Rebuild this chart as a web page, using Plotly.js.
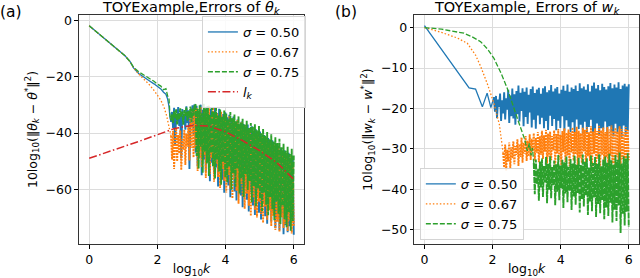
<!DOCTYPE html>
<html>
<head>
<meta charset="utf-8">
<script src="https://cdn.plot.ly/plotly-3.0.1.min.js"></script>
<style>html,body{margin:0;padding:0;background:#fff;}#chart{width:640px;height:278px;}</style>
</head>
<body>
<div id="chart"></div>
<script>
// ---------- Panel (a): errors of theta_k ----------
const seriesNames = ['<i>σ</i> = 0.50', '<i>σ</i> = 0.67', '<i>σ</i> = 0.75'];
const lkName = '<i>l<sub>k</sub></i>';

// smooth (early) parts, x = log10 k
const aBlueX = [0, 0.3, 0.6, 0.9, 1.05, 1.2, 1.3, 1.45, 1.6, 1.75, 1.9, 2.0, 2.1, 2.18, 2.25, 2.3, 2.34, 2.37, 2.40];
const aBlueY = [-1.8, -4.8, -7.9, -11.0, -12.5, -14.6, -16.8, -18.8, -20.2, -21.3, -22.5, -23.4, -24.3, -25.5, -26.2, -27.9, -30.5, -34.6, -36.0];
const aOrangeX = [0, 0.3, 0.6, 0.9, 1.05, 1.2, 1.3, 1.45, 1.6, 1.75, 1.9, 2.0, 2.1, 2.2, 2.27, 2.33, 2.37, 2.40];
const aOrangeY = [-1.8, -4.8, -7.9, -11.0, -12.5, -14.6, -16.8, -19.0, -20.8, -22.6, -24.8, -26.5, -28.3, -31.0, -33.8, -37.2, -39.5, -41.0];
const aGreenX = [0, 0.3, 0.6, 0.9, 1.05, 1.2, 1.3, 1.45, 1.6, 1.75, 1.9, 2.0, 2.1, 2.18, 2.25, 2.3, 2.34, 2.37, 2.40];
const aGreenY = [-1.8, -4.8, -7.9, -11.0, -12.5, -14.6, -16.6, -18.2, -19.3, -20.4, -21.6, -22.6, -23.3, -24.6, -24.2, -26.8, -27.6, -33.8, -35.5];

// oscillating parts, sampled every 0.03 in log10 k starting at 2.40
const aNoiseStart = 2.40;
const aNoiseStep = 0.03;
const aBlueNoise = [-36.0,-32.5,-38.2,-31.0,-44.6,-33.4,-35.8,-30.8,-37.5,-32.9,-49.0,-31.5,-35.1,-33.7,-38.8,-30.5,-36.4,-31.9,-52.8,-32.6,-34.7,-30.1,-40.3,-29.8,
-47.0,-30.3,-51.9,-32.2,-46.3,-29.9,-55.0,-31.7,-49.4,-33.1,
-53.8,-30.6,-48.5,-32.8,-57.2,-31.3,-50.6,-34.0,-54.7,-30.8,
-52.3,-32.9,-59.0,-31.4,-49.8,-35.1,-56.6,-33.2,-61.3,-32.6,
-55.2,-34.4,-58.7,-33.5,-62.9,-35.6,-53.4,-34.1,-60.8,-36.0,
-64.0,-35.2,-57.5,-37.4,-62.2,-35.9,-66.4,-36.8,-59.3,-38.0,
-63.7,-37.0,-67.9,-39.3,-61.1,-37.6,-65.8,-40.5,-69.2,-38.7,
-62.6,-41.2,-68.4,-39.5,-70.8,-42.3,-64.9,-40.7,-69.6,-43.5,
-72.3,-41.8,-66.7,-44.2,-71.5,-42.6,-68.1,-45.3,-73.9,-44.0,
-70.2,-46.6,-74.6,-45.4,-69.0,-47.8,-76.0,-46.1,-72.8,-48.6,
-75.3,-47.0,-73.2,-49.2,-70.5,-48.3,-76.2];
const aOrangeNoise = [-41.0,-49.5,-39.2,-52.8,-43.6,-38.4,-50.1,-40.7,-47.3,-39.0,-53.2,-42.1,-46.0,-38.8,-51.4,-40.2,-44.9,-37.9,-49.8,-33.5,-45.2,-31.8,-48.7,-30.9,
-45.3,-31.1,-53.5,-33.4,-49.0,-30.7,-52.2,-34.5,-47.8,-31.9,
-56.0,-32.3,-50.4,-30.2,-54.6,-33.8,-48.9,-31.0,-57.3,-34.7,
-51.0,-33.0,-55.7,-35.5,-59.6,-32.4,-52.8,-34.9,-57.0,-33.6,
-61.2,-35.7,-54.9,-33.9,-59.8,-36.6,-63.3,-34.8,-56.4,-37.2,
-60.5,-35.4,-65.2,-37.9,-58.1,-36.2,-62.7,-38.6,-67.0,-37.1,
-61.6,-39.4,-65.9,-38.2,-69.5,-40.6,-63.0,-39.1,-67.4,-41.7,
-70.1,-40.0,-64.5,-42.8,-68.8,-41.3,-72.0,-43.4,-66.2,-42.1,
-70.9,-44.6,-67.5,-43.0,-73.1,-45.7,-69.4,-44.3,-74.5,-46.2,
-71.6,-45.0,-75.2,-47.4,-70.0,-46.8,-73.8,-48.9,-72.4,-47.2,
-74.9,-49.6,-71.2,-48.1,-75.8,-50.3,-73.0];
const aGreenNoise = [-35.5,-33.2,-36.4,-32.1,-34.8,-31.6,-36.9,-33.0,-35.2,-31.2,-34.1,-32.4,-37.0,-31.8,-33.9,-30.9,-35.6,-32.2,-34.5,-30.6,-36.2,-31.4,-33.8,-30.2,
-29.8,-48.2,-31.5,-52.6,-30.1,-44.9,-33.0,-54.1,-29.6,-46.7,
-31.2,-50.8,-30.4,-55.3,-33.6,-47.1,-30.9,-52.0,-32.4,-56.2,
-31.0,-49.5,-33.8,-53.7,-31.6,-58.4,-34.2,-50.3,-32.0,-55.9,
-33.1,-57.6,-35.0,-51.8,-32.5,-60.2,-34.7,-54.3,-33.4,-59.1,
-35.8,-52.6,-34.0,-61.5,-36.3,-56.0,-34.9,-62.8,-37.1,-54.7,
-35.6,-60.3,-38.2,-57.1,-36.4,-64.6,-37.8,-58.9,-36.9,-66.0,
-39.0,-59.7,-37.5,-63.4,-40.1,-67.8,-38.6,-61.2,-41.0,-65.5,
-39.6,-69.3,-42.2,-62.8,-40.4,-67.1,-43.0,-71.0,-41.5,-64.4,
-43.6,-68.7,-42.0,-72.4,-45.1,-65.9,-43.8,-70.6,-46.3,-73.5,
-44.9,-68.2,-47.5,-74.8,-45.6,-71.3,-48.0];

// l_k curve
const lkX = [0, 0.5, 1, 1.5, 2, 2.5, 3, 3.5, 4, 4.5, 5, 5.5, 6];
const lkY = [-49.0, -47.0, -44.9, -42.8, -40.6, -38.4, -37.3, -37.5, -39.6, -42.7, -46.3, -50.5, -56.5];

// ---------- Panel (b): errors of w_k ----------
const bBlueX = [0, 1.31, 1.5, 1.70, 1.84, 1.95, 2.04];
const bBlueY = [0.5, -14.9, -15.2, -19.6, -16.2, -19.8, -17.2];
const bOrangeX = [0, 0.5, 0.97, 1.26, 1.5, 1.65, 1.85, 2.05, 2.2, 2.28, 2.31];
const bOrangeY = [0.0, -1.2, -2.6, -3.9, -6.8, -9.6, -14.0, -19.0, -24.0, -28.5, -31.0];
const bGreenX = [0, 0.5, 1.16, 1.4, 1.65, 1.85, 2.04, 2.25, 2.43, 2.6, 2.75, 2.95, 3.02, 3.08, 3.13, 3.17, 3.21];
const bGreenY = [0.0, -0.4, -1.4, -2.3, -3.5, -5.3, -7.6, -11.3, -15.0, -19.5, -23.0, -27.8, -30.5, -28.6, -31.6, -29.8, -33.5];

const bNoiseStep = 0.03;
const bBlueStart = 2.04;
const bBlueNoise = [-17.2,-20.8,-16.9,-22.4,-17.8,-19.6,-16.3,-23.1,-18.0,-21.2,
-16.0,-22.7,-17.5,-20.3,-15.4,-23.6,-16.8,-21.9,-15.1,-22.5,
-16.5,-24.0,-15.7,-21.4,-14.3,-23.2,-16.1,-20.6,-15.0,-24.4,
-15.9,-22.1,-14.8,-23.8,-16.6,-21.0,-15.2,-24.7,-14.6,-22.8,
-16.2,-25.0,-15.3,-21.7,-14.9,-23.9,-16.4,-22.3,-15.0,-24.9,
-14.5,-23.1,-16.0,-25.3,-15.5,-21.8,-14.2,-24.3,-15.8,-22.6,
-15.1,-25.4,-14.7,-23.0,-16.3,-24.8,-15.4,-21.9,-14.4,-25.6,
-15.6,-22.9,-14.1,-24.5,-15.9,-25.8,-14.8,-23.4,-15.2,-26.0,
-14.3,-22.7,-15.7,-25.1,-13.8,-24.0,-15.0,-26.2,-14.6,-23.3,
-15.4,-25.9,-14.0,-24.6,-15.8,-22.8,-14.4,-26.4,-13.6,-25.2,
-15.1,-23.7,-14.2,-26.6,-15.5,-24.9,-13.9,-25.5,-14.7,-23.2,
-15.3,-26.8,-14.5,-24.4,-13.7,-25.9,-15.0,-26.9,-14.1,-23.8,
-14.8,-26.3,-13.5,-25.0,-15.2,-27.0,-14.3,-24.2,-13.9,-26.5,
-14.6,-25.6,-14.0];
const bOrangeStart = 2.31;
const bOrangeNoise = [-31.0,-34.6,-28.9,-35.3,-30.2,-33.1,-28.4,-34.9,-29.6,-32.3,
-28.1,-33.8,-29.3,-31.5,-27.6,-34.2,-28.8,-32.0,-27.2,-33.4,
-28.5,-31.2,-26.8,-33.0,-27.9,-31.8,-26.4,-32.7,-27.5,-30.6,
-26.1,-32.9,-27.3,-30.9,-25.8,-33.3,-26.9,-31.4,-25.5,-32.5,
-26.6,-30.7,-25.3,-33.6,-26.2,-31.9,-25.7,-32.8,-26.8,-30.4,
-25.4,-33.9,-26.3,-31.1,-25.1,-32.6,-26.5,-34.0,-25.6,-30.8,
-24.9,-33.2,-26.0,-31.6,-25.2,-34.3,-25.9,-30.9,-24.7,-32.9,
-25.8,-31.3,-24.5,-34.1,-25.5,-32.2,-26.1,-33.5,-24.8,-30.6,
-25.3,-34.5,-24.6,-31.8,-25.9,-33.0,-24.4,-34.8,-25.7,-31.2,
-24.9,-33.7,-25.6,-32.4,-24.3,-34.6,-25.4,-31.5,-24.7,-33.9,
-25.8,-32.1,-24.6,-35.0,-25.2,-31.7,-24.2,-33.6,-25.5,-34.4,
-24.8,-31.9,-25.7,-33.3,-24.4,-34.9,-25.1,-32.5,-25.9,-33.8,
-24.6,-34.2,-25.3,-32.8];
const bGreenStart = 3.21;
const bGreenNoise = [-33.5,-41.2,-32.6,-38.7,-34.9,-42.8,-33.1,-39.5,-32.4,-41.9,
-34.2,-38.3,-32.0,-43.4,-33.7,-40.1,-31.8,-42.2,-34.5,-39.0,
-32.9,-43.9,-33.8,-40.6,-31.5,-42.7,-34.1,-39.8,-32.7,-44.6,
-33.3,-41.0,-31.9,-43.2,-34.4,-40.3,-32.5,-45.1,-33.6,-41.8,
-31.7,-43.8,-33.9,-40.9,-32.2,-45.7,-34.0,-42.4,-31.4,-44.2,
-33.2,-41.5,-32.3,-46.3,-34.6,-43.0,-31.6,-45.4,-33.5,-42.0,
-32.0,-46.8,-33.7,-43.6,-31.3,-45.9,-34.3,-42.6,-32.6,-47.4,
-31.9,-44.5,-33.4,-46.6,-31.2,-43.3,-32.8,-48.2,-33.9,-45.0,
-31.5,-47.8,-32.7,-44.0,-30.9,-50.8,-33.6,-46.1,-31.8,-48.9,
-32.4,-45.5,-31.1,-49.3];

// ---------- styling ----------
const C = {blue: '#1f77b4', orange: '#ff7f0e', green: '#2ca02c', red: '#d62728'};
const LW = 1.3;
const NW = 1.9; // line width of the dense oscillating parts
const smoothStyles = [
  {color: C.blue, width: LW, dash: 'solid'},
  {color: C.orange, width: LW, dash: '1.5px,2px'},
  {color: C.green, width: LW, dash: '5px,2px'}
];
const noiseStyles = [
  {color: C.blue, width: NW, dash: 'solid'},
  {color: C.orange, width: NW, dash: '2px,1px'},
  {color: C.green, width: NW, dash: '6px,1px'}
];

function pair(k, sx, sy, n0, dx, ny, xa, ya, legendId, group) {
  return [
    {type: 'scatter', mode: 'lines', x: sx, y: sy, name: seriesNames[k], line: smoothStyles[k],
     xaxis: xa, yaxis: ya, legend: legendId, legendgroup: group, hoverinfo: 'skip'},
    {type: 'scatter', mode: 'lines', x0: n0, dx: dx, y: ny, name: seriesNames[k], line: noiseStyles[k],
     xaxis: xa, yaxis: ya, legend: legendId, legendgroup: group, showlegend: false, hoverinfo: 'skip'}
  ];
}

const traces = [].concat(
  pair(0, aBlueX, aBlueY, aNoiseStart, aNoiseStep, aBlueNoise, 'x', 'y', 'legend', 'a0'),
  pair(1, aOrangeX, aOrangeY, aNoiseStart, aNoiseStep, aOrangeNoise, 'x', 'y', 'legend', 'a1'),
  pair(2, aGreenX, aGreenY, aNoiseStart, aNoiseStep, aGreenNoise, 'x', 'y', 'legend', 'a2'),
  [{type: 'scatter', mode: 'lines', x: lkX, y: lkY, name: lkName,
    line: {color: C.red, width: 1.5, dash: '8px,2.5px,1.5px,2.5px'}, xaxis: 'x', yaxis: 'y', legend: 'legend', hoverinfo: 'skip'}],
  pair(0, bBlueX, bBlueY, bBlueStart, bNoiseStep, bBlueNoise, 'x2', 'y2', 'legend2', 'b0'),
  pair(1, bOrangeX, bOrangeY, bOrangeStart, bNoiseStep, bOrangeNoise, 'x2', 'y2', 'legend2', 'b1'),
  pair(2, bGreenX, bGreenY, bGreenStart, bNoiseStep, bGreenNoise, 'x2', 'y2', 'legend2', 'b2')
);

const FONT = 'DejaVu Sans, sans-serif';
const FS = 12.5;
function xAxis(domain, anchor) {
  return {domain: domain, anchor: anchor, range: [-0.3, 6.3], tickvals: [0, 2, 4, 6],
    ticks: 'outside', ticklen: 3.5, tickwidth: 1, tickcolor: '#000',
    showline: true, mirror: true, linecolor: '#333', linewidth: 1,
    showgrid: true, gridcolor: '#dcdcdc', gridwidth: 1, zeroline: false,
    tickfont: {family: FONT, size: FS, color: '#000'},
    title: {text: 'log<sub>10</sub><i>k</i>', font: {family: FONT, size: FS, color: '#000'}, standoff: 3},
    automargin: false};
}
function yAxis(domain, anchor, range, tickvals, title) {
  return {domain: domain, anchor: anchor, range: range, tickvals: tickvals,
    ticks: 'outside', ticklen: 3.5, tickwidth: 1, tickcolor: '#000',
    showline: true, mirror: true, linecolor: '#333', linewidth: 1,
    showgrid: true, gridcolor: '#dcdcdc', gridwidth: 1, zeroline: false,
    tickfont: {family: FONT, size: FS, color: '#000'},
    title: {text: title, font: {family: FONT, size: FS, color: '#000'}, standoff: 5},
    automargin: false};
}
const legendBase = {bgcolor: 'rgba(255,255,255,0.85)', bordercolor: '#d4d4d4', borderwidth: 1,
  font: {family: FONT, size: 13, color: '#000'}, tracegroupgap: 0, itemwidth: 30};

const layout = {
  width: 640, height: 278,
  margin: {l: 0, r: 0, t: 0, b: 0},
  paper_bgcolor: '#fff', plot_bgcolor: '#fff',
  font: {family: FONT, size: FS, color: '#000'},
  showlegend: true,
  xaxis: xAxis([0.1234, 0.4750], 'y'),
  yaxis: yAxis([0.1223, 0.9460], 'x', [-79.5, 2], [0, -20, -40, -60],
    '10log<sub>10</sub>(‖<i>θ</i><sub><i>k</i></sub> − <i>θ</i><sup>*</sup>‖<sup>2</sup>)'),
  xaxis2: xAxis([0.6473, 0.9984], 'y2'),
  yaxis2: yAxis([0.1223, 0.9460], 'x2', [-53.5, 3.1], [0, -10, -20, -30, -40, -50],
    '10log<sub>10</sub>(‖<i>w</i><sub><i>k</i></sub> − <i>w</i><sup>*</sup>‖<sup>2</sup>)'),
  legend: Object.assign({}, legendBase, {x: 0.478, xanchor: 'right', y: (278 - 16) / 278, yanchor: 'top'}),
  legend2: Object.assign({}, legendBase, {x: 0.656, xanchor: 'left', y: (278 - 240) / 278, yanchor: 'bottom'}),
  annotations: [
    {text: 'TOYExample,Errors of <i>θ</i><sub><i>k</i></sub>', xref: 'paper', yref: 'paper',
     x: 191.5 / 640, y: (278 - 7.5) / 278, xanchor: 'center', yanchor: 'middle', showarrow: false,
     font: {family: FONT, size: 14.5, color: '#000'}},
    {text: 'TOYExample, Errors of <i>w</i><sub><i>k</i></sub>', xref: 'paper', yref: 'paper',
     x: 526.5 / 640, y: (278 - 7.5) / 278, xanchor: 'center', yanchor: 'middle', showarrow: false,
     font: {family: FONT, size: 14.5, color: '#000'}},
    {text: '(a)', xref: 'paper', yref: 'paper', x: 11 / 640, y: (278 - 12) / 278,
     xanchor: 'center', yanchor: 'middle', showarrow: false, font: {family: FONT, size: 15.5, color: '#000'}},
    {text: '(b)', xref: 'paper', yref: 'paper', x: 346 / 640, y: (278 - 12) / 278,
     xanchor: 'center', yanchor: 'middle', showarrow: false, font: {family: FONT, size: 15.5, color: '#000'}}
  ]
};

Plotly.newPlot('chart', traces, layout, {staticPlot: true, displayModeBar: false});
</script>
</body>
</html>
